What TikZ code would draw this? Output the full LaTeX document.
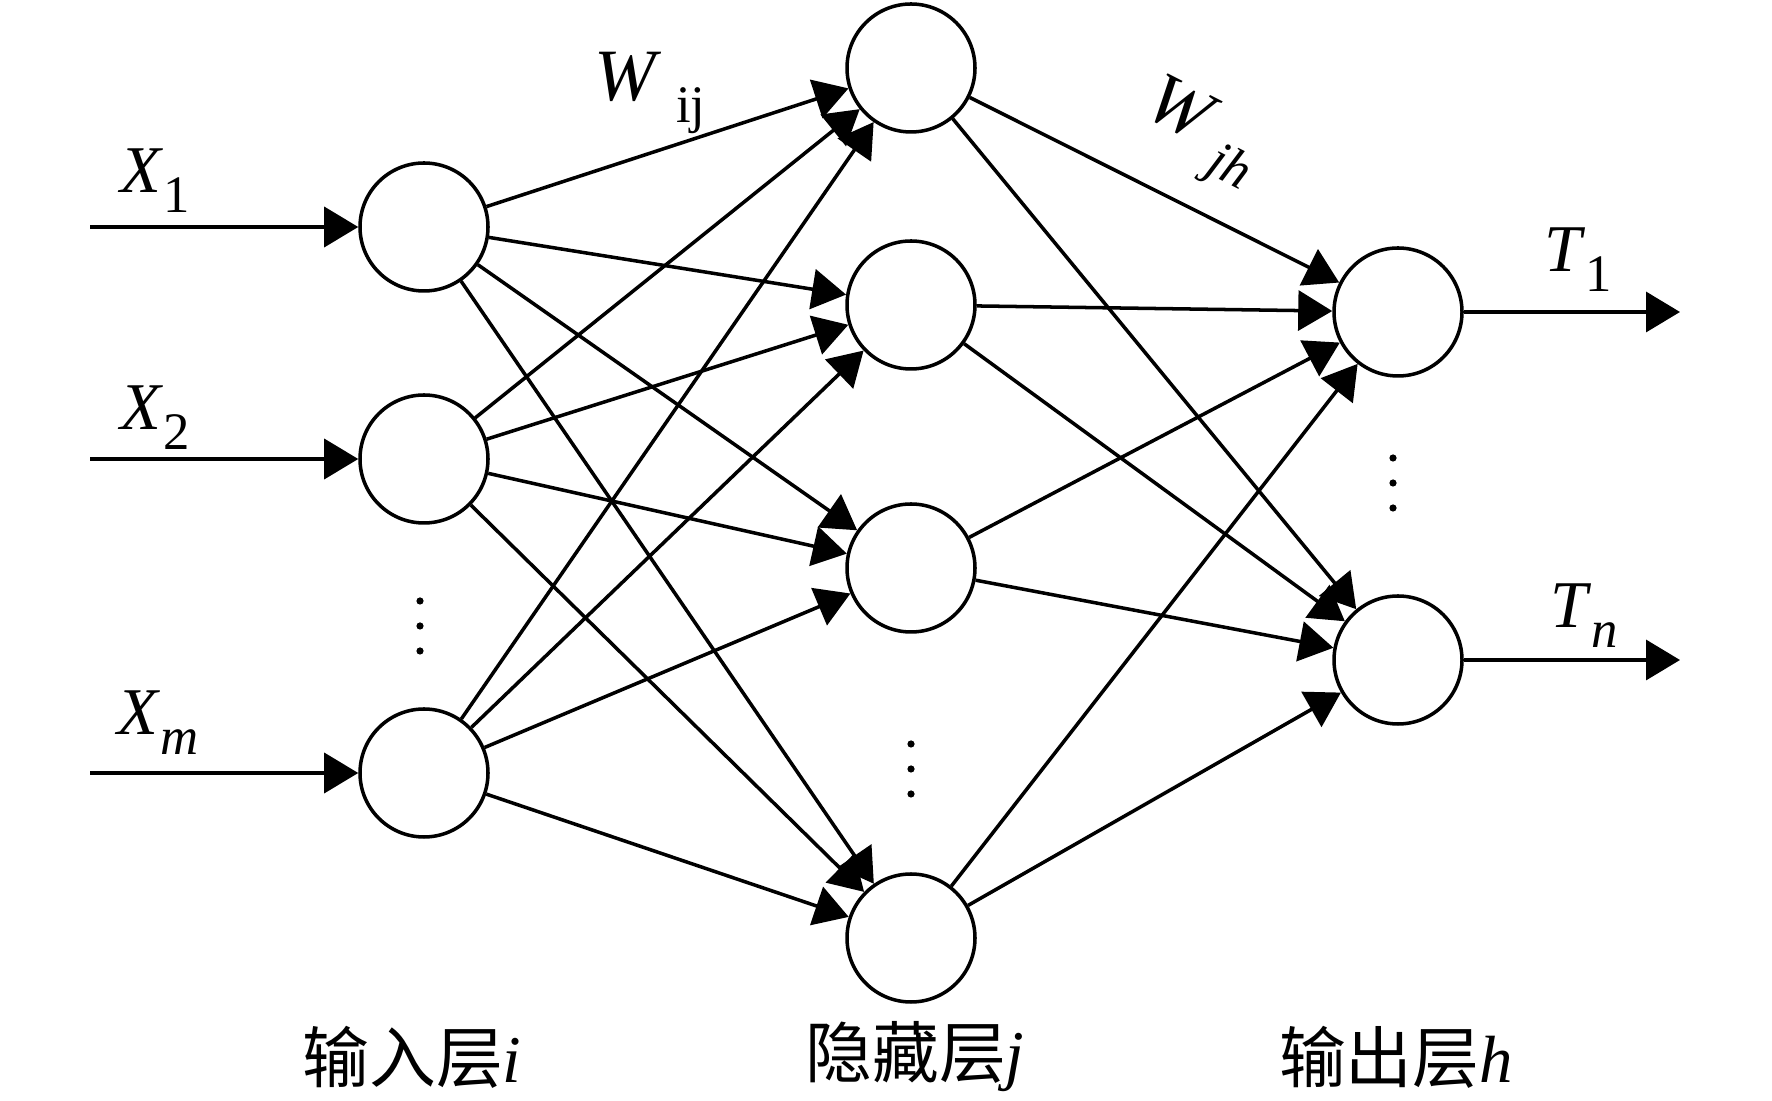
\documentclass[tikz,border=0pt]{standalone}
\usepackage{fontspec}
\setmainfont{Liberation Serif}
\newfontfamily\cjk{Noto Sans CJK SC}
\usetikzlibrary{arrows.meta, positioning}

\newcommand{\lowsub}[1]{\raisebox{-0.3em}{\fontsize{15}{15}\selectfont #1}}

\begin{document}
\begin{tikzpicture}[
        neuron/.style={circle, draw=black, line width=1pt, fill=white, minimum size=1.28cm, inner sep=0pt},
        link/.style={line width=1pt, -{Triangle[length=3.4mm, width=4mm]}},
        varlabel/.style={font=\fontsize{19}{22}\selectfont, inner sep=0pt},
        layerlabel/.style={font=\fontsize{19}{22}\selectfont, inner sep=0pt}
    ]
        \useasboundingbox (0,0) rectangle (17.72,-11.01);

        % input layer
        \node[neuron] (in1) at (4.24,-2.27) {};
        \node[neuron] (in2) at (4.24,-4.59) {};
        \node[neuron] (inm) at (4.24,-7.73) {};

        % hidden layer
        \node[neuron] (hid1) at (9.11,-0.68) {};
        \node[neuron] (hid2) at (9.11,-3.05) {};
        \node[neuron] (hid3) at (9.11,-5.68) {};
        \node[neuron] (hid4) at (9.11,-9.38) {};

        % output layer
        \node[neuron] (out1) at (13.98,-3.12) {};
        \node[neuron] (outn) at (13.98,-6.60) {};

        % free ends of the input and output arrows
        \coordinate (x1) at (0.90,-2.27);
        \coordinate (x2) at (0.90,-4.59);
        \coordinate (xm) at (0.90,-7.73);
        \coordinate (t1) at (16.80,-3.12);
        \coordinate (tn) at (16.80,-6.60);

        \draw[link] (x1) -- (in1);
        \draw[link] (x2) -- (in2);
        \draw[link] (xm) -- (inm);
        \draw[link] (out1) -- (t1);
        \draw[link] (outn) -- (tn);

        \foreach \i in {in1,in2,inm}
            \foreach \j in {hid1,hid2,hid3,hid4}
                \draw[link] (\i) -- (\j);

        \foreach \j in {hid1,hid2,hid3,hid4}
            \foreach \h in {out1,outn}
                \draw[link] (\j) -- (\h);

        % vertical dots
        \foreach \x/\y in {4.20/-6.01, 9.11/-7.44, 13.93/-4.58}
            \foreach \k in {0,1,2}
                \fill (\x,\y-0.25*\k) circle (0.036);

        % labels
        \node[varlabel] (lx1) at (1.55,-1.81) {\textit{X}\lowsub{1}};
        \node[varlabel] (lx2) at (1.55,-4.18) {\textit{X}\lowsub{2}};
        \node[varlabel] (lxm) at (1.58,-7.23) {\textit{X}\lowsub{\textit{m}}};
        \node[varlabel] (lt1) at (15.78,-2.60) {\textit{T}\lowsub{1}};
        \node[varlabel] (ltn) at (15.84,-6.16) {\textit{T}\lowsub{\textit{n}}};
        \node[varlabel, font=\fontsize{21}{24}\selectfont] (lwij) at (6.50,-0.93) {\textit{W}\hspace{0.2em}\lowsub{ij}};
        \node[varlabel, font=\fontsize{21}{24}\selectfont, rotate=-27] (lwjh) at (12.00,-1.36) {\textit{W}\hspace{0.2em}\lowsub{\textit{jh}}};

        \node[layerlabel] (lin) at (4.12,-10.57) {{\cjk 输入层}\textit{i}};
        \node[layerlabel] (lhid) at (9.15,-10.57) {{\cjk 隐藏层}\textit{j}};
        \node[layerlabel] (lout) at (13.96,-10.57) {{\cjk 输出层}\textit{h}};
    \end{tikzpicture}
\end{document}
